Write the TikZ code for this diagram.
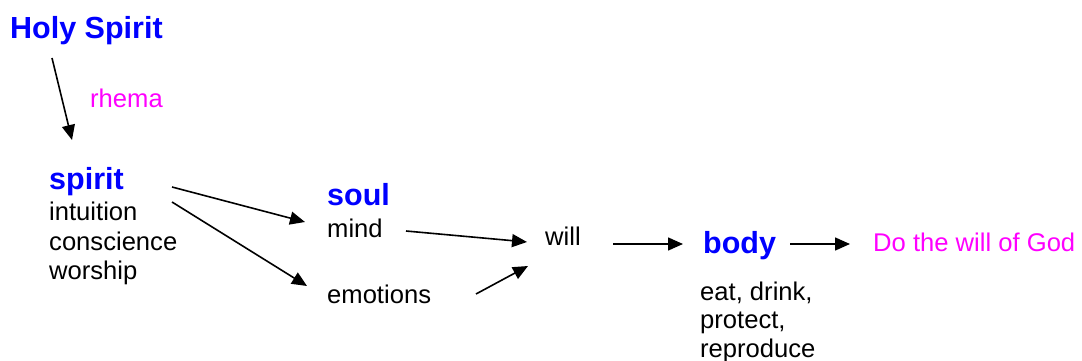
\documentclass[tikz,border=0pt]{standalone}
\usepackage{fontspec}
\setmainfont{Liberation Sans}
\usetikzlibrary{arrows.meta}
\definecolor{hblue}{RGB}{0,0,255}
\definecolor{hmag}{RGB}{255,0,255}
\tikzset{
  title/.style={anchor=base west, inner sep=0pt, text=hblue, font=\fontsize{30.5}{34}\selectfont\bfseries},
  item/.style={anchor=base west, inner sep=0pt, text=black, font=\fontsize{25.6}{29.5}\selectfont},
  note/.style={anchor=base west, inner sep=0pt, text=hmag, font=\fontsize{25.6}{29.5}\selectfont},
  arr/.style={line width=1.6pt, -{Triangle[length=15pt,width=13pt]}}
}
\begin{document}
\begin{tikzpicture}[x=1pt,y=-1pt]
\useasboundingbox (0,0) rectangle (1082,361);
\node[title] (hs) at (10,39) {Holy Spirit};
\node[note] (rhema) at (90,107) {rhema};
\node[title] (spirit) at (49,189) {spirit};
\node[item] (intuition) at (49,220) {intuition};
\node[item] (conscience) at (49,250) {conscience};
\node[item] (worship) at (49,279) {worship};
\node[title] (soul) at (327,205) {soul};
\node[item] (mind) at (327,237) {mind};
\node[item] (emotions) at (327,303) {emotions};
\node[item] (will) at (545,245) {will};
\node[title] (body) at (703,253) {body};
\node[item] (eat) at (700,300) {eat, drink,};
\node[item] (protect) at (700,328.5) {protect,};
\node[item] (reproduce) at (700,357) {reproduce};
\node[note] (do) at (873,251) {Do the will of God};

\draw[arr] ([shift={(42pt,-19pt)}]hs.base west) -- ([shift={(23pt,49pt)}]spirit.base west);
\draw[arr] ([shift={(123pt,2pt)}]spirit.base west) -- ([shift={(-22pt,-17pt)}]soul.base west);
\draw[arr] ([shift={(123pt,-13pt)}]spirit.base west) -- ([shift={(-20pt,17pt)}]emotions.base west);
\draw[arr] ([shift={(79pt,6pt)}]mind.base west) -- ([shift={(-18pt,3pt)}]will.base west);
\draw[arr] ([shift={(149pt,9pt)}]emotions.base west) -- ([shift={(-17pt,-21pt)}]will.base west);
\draw[arr] ([shift={(68pt,1pt)}]will.base west) -- ([shift={(-20pt,9pt)}]body.base west);
\draw[arr] ([shift={(87pt,9pt)}]body.base west) -- ([shift={(-23pt,7pt)}]do.base west);
\end{tikzpicture}
\end{document}
